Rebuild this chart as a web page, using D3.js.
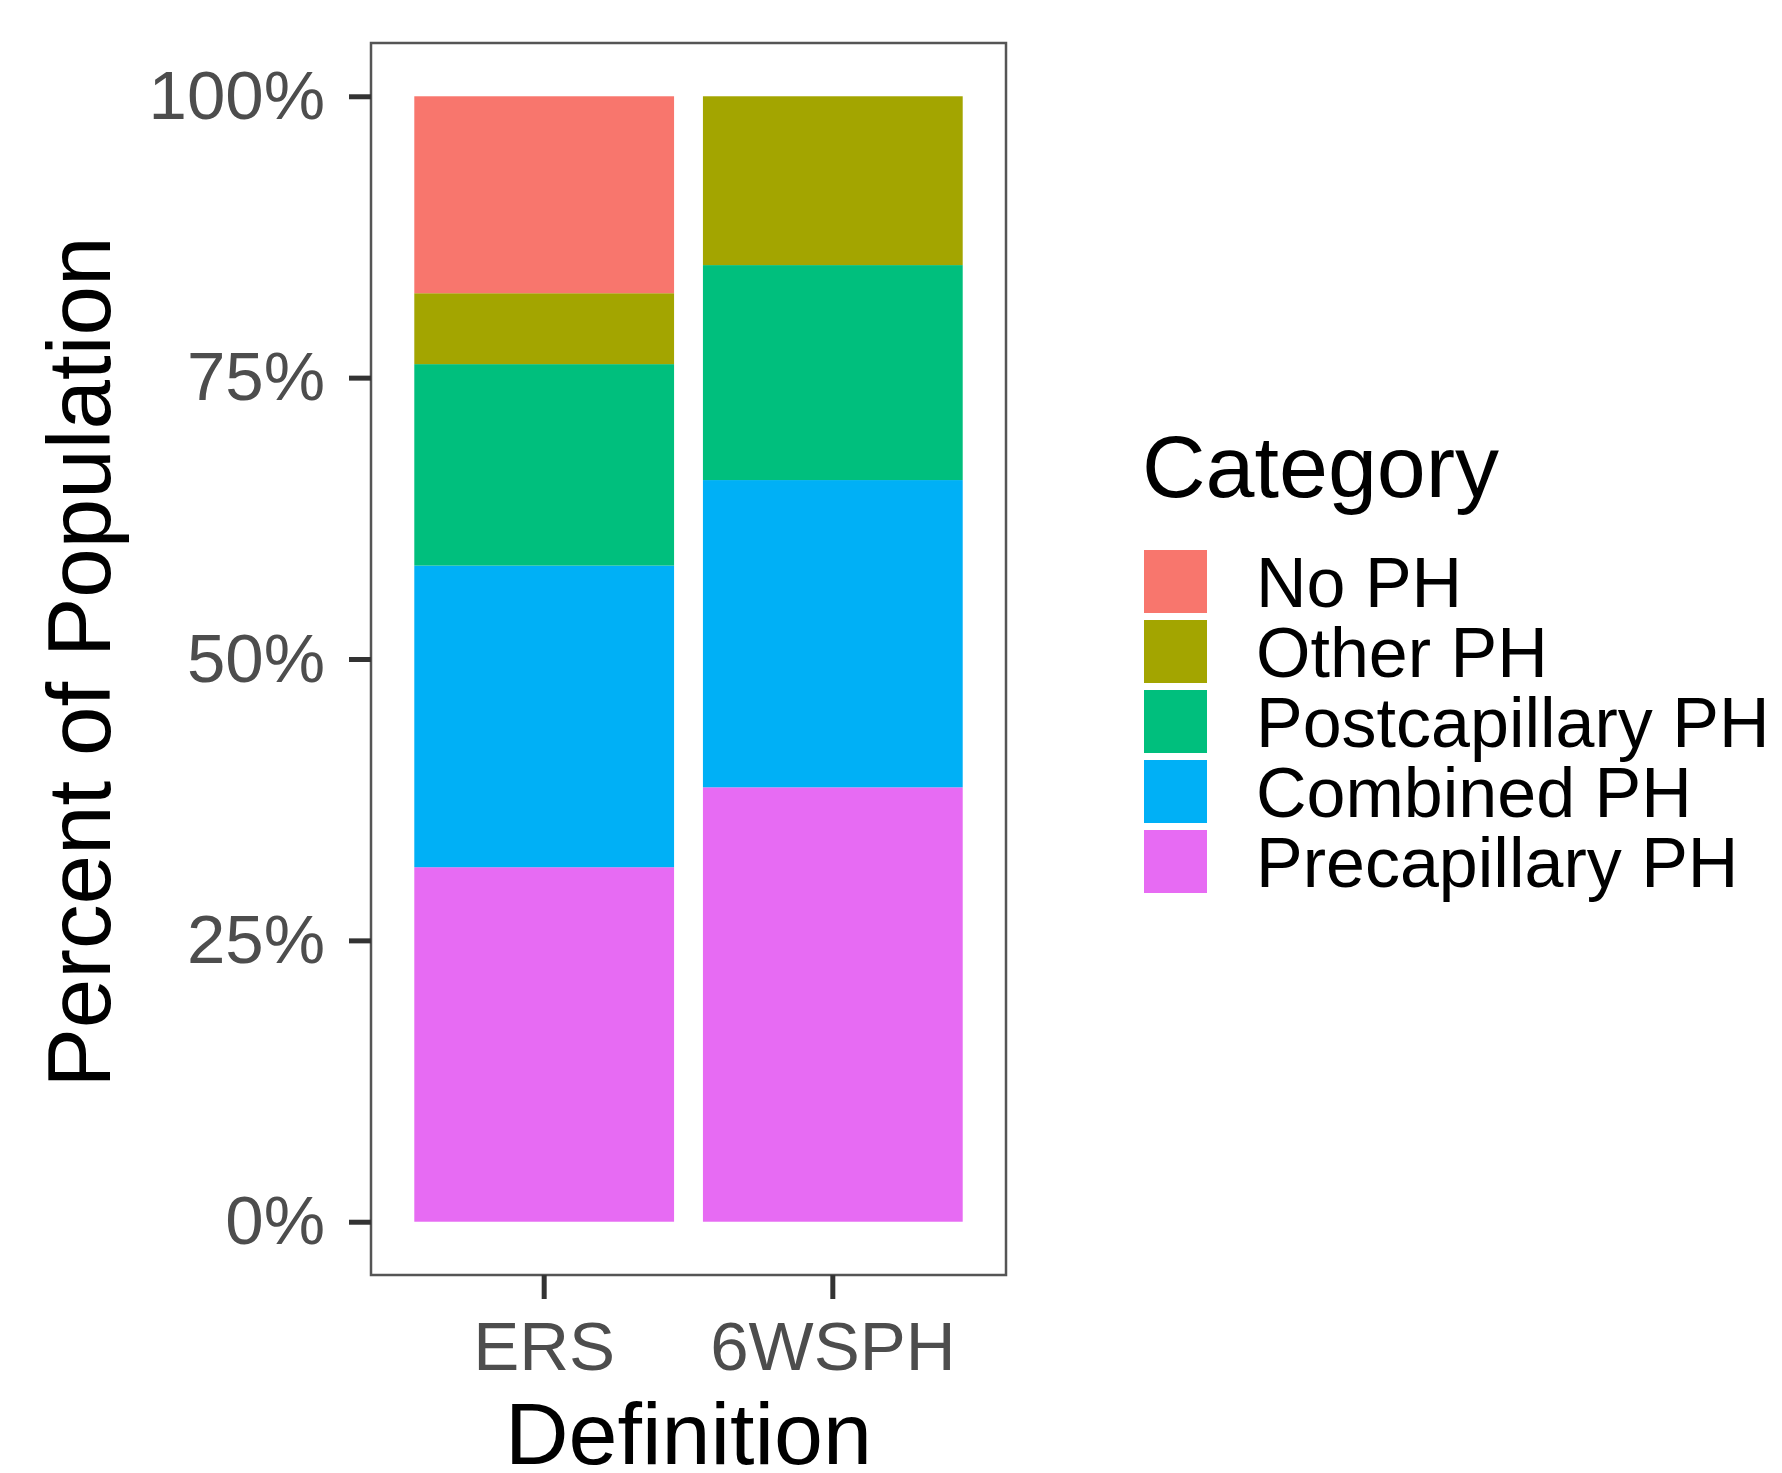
<!DOCTYPE html>
<html>
<head>
<meta charset="utf-8">
<script src="https://cdn.jsdelivr.net/npm/d3@7"></script>
<style>
  html, body { margin: 0; padding: 0; background: #ffffff; }
  svg { display: block; font-family: "Liberation Sans", Arial, Helvetica, sans-serif; }
</style>
</head>
<body>
<svg id="chart" width="1782" height="1473"></svg>
<script>
// ---- Data (percent of population) ----
const categories = ["ERS", "6WSPH"];
const seriesNames = ["No PH", "Other PH", "Postcapillary PH", "Combined PH", "Precapillary PH"];
const noPH          = [17.5, 0.0];
const otherPH       = [6.3, 15.0];
const postcapPH     = [17.9, 19.1];
const combinedPH    = [26.8, 27.3];
const precapPH      = [31.5, 38.6];
const yTickValues   = [0, 0.25, 0.5, 0.75, 1];
const seriesColors  = ["#F8766D", "#A3A500", "#00BF7D", "#00B0F6", "#E76BF3"];

const seriesValues = [noPH, otherPH, postcapPH, combinedPH, precapPH];
const rows = categories.map((c, i) => {
  const r = { category: c };
  seriesNames.forEach((s, j) => { r[s] = seriesValues[j][i]; });
  return r;
});

// ---- Layout ----
const svg = d3.select("#chart");
const panel = { left: 371, right: 1006, top: 40, bottom: 1278 };
const border = { top: 43, bottom: 1275 };

const x = d3.scaleBand()
  .domain(categories)
  .range([panel.left, panel.right])
  .paddingInner(0.1)
  .paddingOuter(0.15)
  .align(0.5);

const y = d3.scaleLinear()
  .domain([-0.05, 1.05])
  .range([panel.bottom, panel.top]);

const color = d3.scaleOrdinal().domain(seriesNames).range(seriesColors);

// Stack: first level on top (ggplot position_fill), so stack in reverse order
const stackKeys = seriesNames.slice().reverse();
const stacked = d3.stack()
  .keys(stackKeys)
  .value((d, k) => d[k] / d3.sum(seriesNames, s => d[s]))(rows);

// Bars
svg.append("g").selectAll("g")
  .data(stacked)
  .join("g")
  .attr("fill", d => color(d.key))
  .selectAll("rect")
  .data(d => d)
  .join("rect")
  .attr("x", d => x(d.data.category))
  .attr("width", x.bandwidth())
  .attr("y", d => y(d[1]))
  .attr("height", d => Math.max(0, y(d[0]) - y(d[1])));

// Panel border
svg.append("rect")
  .attr("x", panel.left).attr("y", border.top)
  .attr("width", panel.right - panel.left)
  .attr("height", border.bottom - border.top)
  .attr("fill", "none")
  .attr("stroke", "#555555")
  .attr("stroke-width", 2.5);

// Y axis
const yAxis = d3.axisLeft(y)
  .tickValues(yTickValues)
  .tickFormat(d3.format(".0%"))
  .tickSize(22)
  .tickPadding(24);

const gy = svg.append("g")
  .attr("transform", `translate(${panel.left},0)`)
  .call(yAxis);
gy.select(".domain").remove();
gy.selectAll(".tick line").attr("stroke", "#333333").attr("stroke-width", 5);
gy.selectAll(".tick text")
  .attr("fill", "#4D4D4D")
  .style("font-size", "69px")
  .style("font-family", "'Liberation Sans', Arial, sans-serif");

// X axis
const xAxis = d3.axisBottom(x)
  .tickSize(24)
  .tickPadding(22);

const gx = svg.append("g")
  .attr("transform", `translate(0,${border.bottom})`)
  .call(xAxis);
gx.select(".domain").remove();
gx.selectAll(".tick line").attr("stroke", "#333333").attr("stroke-width", 5);
gx.selectAll(".tick text")
  .attr("fill", "#4D4D4D")
  .style("font-size", "69px")
  .style("font-family", "'Liberation Sans', Arial, sans-serif");

// Axis titles
svg.append("text")
  .attr("transform", `translate(110,${(border.top + border.bottom) / 2 + 3}) rotate(-90)`)
  .attr("text-anchor", "middle")
  .attr("fill", "#000000")
  .style("font-size", "89px")
  .text("Percent of Population");

svg.append("text")
  .attr("x", (panel.left + panel.right) / 2)
  .attr("y", 1464)
  .attr("text-anchor", "middle")
  .attr("fill", "#000000")
  .style("font-size", "88px")
  .text("Definition");

// Legend
const legend = svg.append("g").attr("transform", "translate(1142,0)");
legend.append("text")
  .attr("x", 0).attr("y", 497)
  .attr("fill", "#000000")
  .style("font-size", "88px")
  .text("Category");

const keyStep = 70, keyTop = 550, keySize = 63;
const items = legend.selectAll("g.item")
  .data(seriesNames)
  .join("g")
  .attr("class", "item")
  .attr("transform", (d, i) => `translate(0,${keyTop + i * keyStep})`);
items.append("rect")
  .attr("x", 2).attr("y", 0)
  .attr("width", keySize).attr("height", keySize)
  .attr("fill", d => color(d));
items.append("text")
  .attr("x", 114)
  .attr("y", keySize / 2)
  .attr("dy", "0.36em")
  .attr("fill", "#000000")
  .style("font-size", "70px")
  .text(d => d);
</script>
</body>
</html>
